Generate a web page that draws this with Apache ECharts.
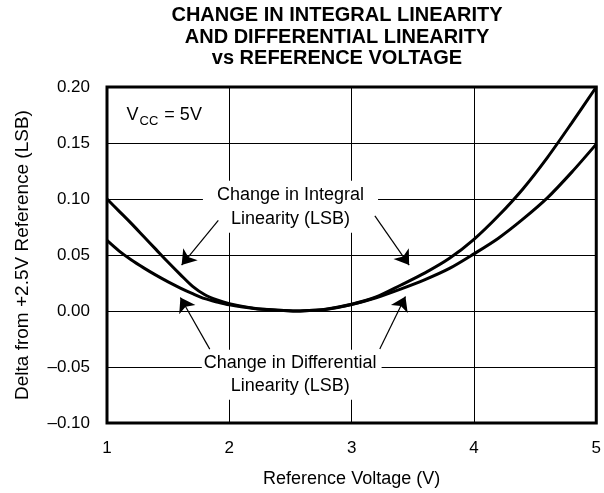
<!DOCTYPE html>
<html>
<head>
<meta charset="utf-8">
<script src="https://cdn.jsdelivr.net/npm/echarts@6/dist/echarts.min.js"></script>
<style>
  html, body { margin: 0; padding: 0; background: #fff; }
  #main { width: 604px; height: 493px; }
</style>
</head>
<body>
<div id="main"></div>
<script>
  // reference voltage (V)
  var voltage = [1.0, 1.1, 1.2, 1.3, 1.4, 1.5, 1.6, 1.7, 1.8, 1.9, 2.0, 2.2, 2.4, 2.55, 2.7, 2.8, 3.0, 3.2, 3.4, 3.6, 3.8, 4.0, 4.2, 4.4, 4.6, 4.8, 5.0]
  // change in integral linearity (LSB)
  var integralDelta = [0.100, 0.089, 0.078, 0.0665, 0.055, 0.0435, 0.0325, 0.022, 0.0145, 0.0098, 0.0066, 0.0025, 0.0007, 0.0, 0.0007, 0.0018, 0.006, 0.0125, 0.023, 0.034, 0.047, 0.064, 0.085, 0.109, 0.137, 0.168, 0.200]
  // change in differential linearity (LSB)
  var differentialDelta = [0.063, 0.0535, 0.0455, 0.0385, 0.032, 0.026, 0.0205, 0.0155, 0.011, 0.008, 0.0055, 0.0022, 0.0006, 0.0, 0.0006, 0.0015, 0.0058, 0.0118, 0.0195, 0.028, 0.038, 0.051, 0.065, 0.082, 0.101, 0.124, 0.149]
  var xTicks = [1, 2, 3, 4, 5]
  var yTicks = [-0.10, -0.05, 0.00, 0.05, 0.10, 0.15, 0.20]

  // callout arrows, [from, to] in data coords
  var integralArrows = [[[1.91, 0.081], [1.61, 0.041]], [[3.19, 0.085], [3.47, 0.041]]]
  var differentialArrows = [[[1.84, -0.034], [1.60, 0.012]], [[3.23, -0.034], [3.44, 0.013]]]

  var font = 'Liberation Sans, Arial, Helvetica, sans-serif'
  var chart = echarts.init(document.getElementById('main'))

  function pairs(ys) {
    return voltage.map(function (v, i) { return [v, ys[i]] })
  }
  function arrowData(list) {
    return list.map(function (a) { return { coords: a } })
  }

  var option = {
    animation: false,
    backgroundColor: '#fff',
    grid: {
      left: 107, right: 2, top: 87, bottom: 70,
      show: true, borderColor: '#000', borderWidth: 3
    },
    xAxis: {
      type: 'value',
      min: xTicks[0], max: xTicks[xTicks.length - 1], interval: 1,
      name: 'Reference Voltage (V)',
      nameLocation: 'middle', nameGap: 47,
      nameTextStyle: { color: '#000', fontSize: 18, fontFamily: font },
      axisLine: { show: false },
      axisTick: { show: false },
      axisLabel: { color: '#000', fontSize: 17, fontFamily: font, margin: 17 },
      splitLine: { show: true, lineStyle: { color: '#000', width: 1 } }
    },
    yAxis: {
      type: 'value',
      min: yTicks[0], max: yTicks[yTicks.length - 1], interval: 0.05,
      name: 'Delta from +2.5V Reference (LSB)',
      nameLocation: 'middle', nameGap: 75,
      nameTextStyle: { color: '#000', fontSize: 19, fontFamily: font },
      axisLine: { show: false },
      axisTick: { show: false },
      axisLabel: {
        color: '#000', fontSize: 17, fontFamily: font, margin: 17,
        formatter: function (v) {
          var s = Math.abs(v).toFixed(2)
          return v < -1e-9 ? '\u2013' + s : s
        }
      },
      splitLine: { show: true, lineStyle: { color: '#000', width: 1 } }
    },
    series: [{
      name: 'integral',
      type: 'line',
      data: pairs(integralDelta),
      smooth: 0.3,
      showSymbol: false,
      lineStyle: { color: '#000', width: 3 },
      z: 5
    }, {
      name: 'differential',
      type: 'line',
      data: pairs(differentialDelta),
      smooth: 0.3,
      showSymbol: false,
      lineStyle: { color: '#000', width: 3 },
      z: 5
    }, {
      type: 'lines',
      coordinateSystem: 'cartesian2d',
      data: arrowData(integralArrows.concat(differentialArrows)),
      symbol: ['none', 'arrow'],
      symbolSize: [8, 14],
      lineStyle: { color: '#000', width: 1.2, opacity: 1 },
      z: 6
    }]
  }
  chart.setOption(option)

  // texts placed from data coords
  function px(p) { return chart.convertToPixel({ gridIndex: 0 }, p) }
  var pI = px([2.50, 0.093])
  var pD = px([2.51, -0.057])
  var pV = px([1.16, 0.175])

  chart.setOption({
    graphic: [{
      type: 'text',
      x: 337, y: 5,
      style: {
        text: 'CHANGE IN INTEGRAL LINEARITY\nAND DIFFERENTIAL LINEARITY\nvs REFERENCE VOLTAGE',
        fill: '#000', fontSize: 20, fontWeight: 'bold', fontFamily: font,
        lineHeight: 21.5, textAlign: 'center', textVerticalAlign: 'top'
      }
    }, {
      type: 'text',
      x: pI[0], y: pI[1], z: 4,
      style: {
        text: 'Change in Integral\nLinearity (LSB)',
        fill: '#000', fontSize: 18, fontFamily: font, lineHeight: 24,
        textAlign: 'center', textVerticalAlign: 'middle',
        backgroundColor: '#fff', padding: [2, 14]
      }
    }, {
      type: 'text',
      x: pD[0], y: pD[1], z: 4,
      style: {
        text: 'Change in Differential\nLinearity (LSB)',
        fill: '#000', fontSize: 18, fontFamily: font, lineHeight: 23,
        textAlign: 'center', textVerticalAlign: 'middle',
        backgroundColor: '#fff', padding: [2, 5, 2, 2]
      }
    }, {
      type: 'text',
      x: pV[0], y: pV[1], z: 4,
      style: {
        text: 'V{sub|CC} = 5V',
        fill: '#000', fontSize: 18, fontFamily: font,
        textAlign: 'left', textVerticalAlign: 'middle',
        rich: {
          sub: { fontSize: 13, fontFamily: font, padding: [12, 1, 0, 1] }
        }
      }
    }]
  })
</script>
</body>
</html>
